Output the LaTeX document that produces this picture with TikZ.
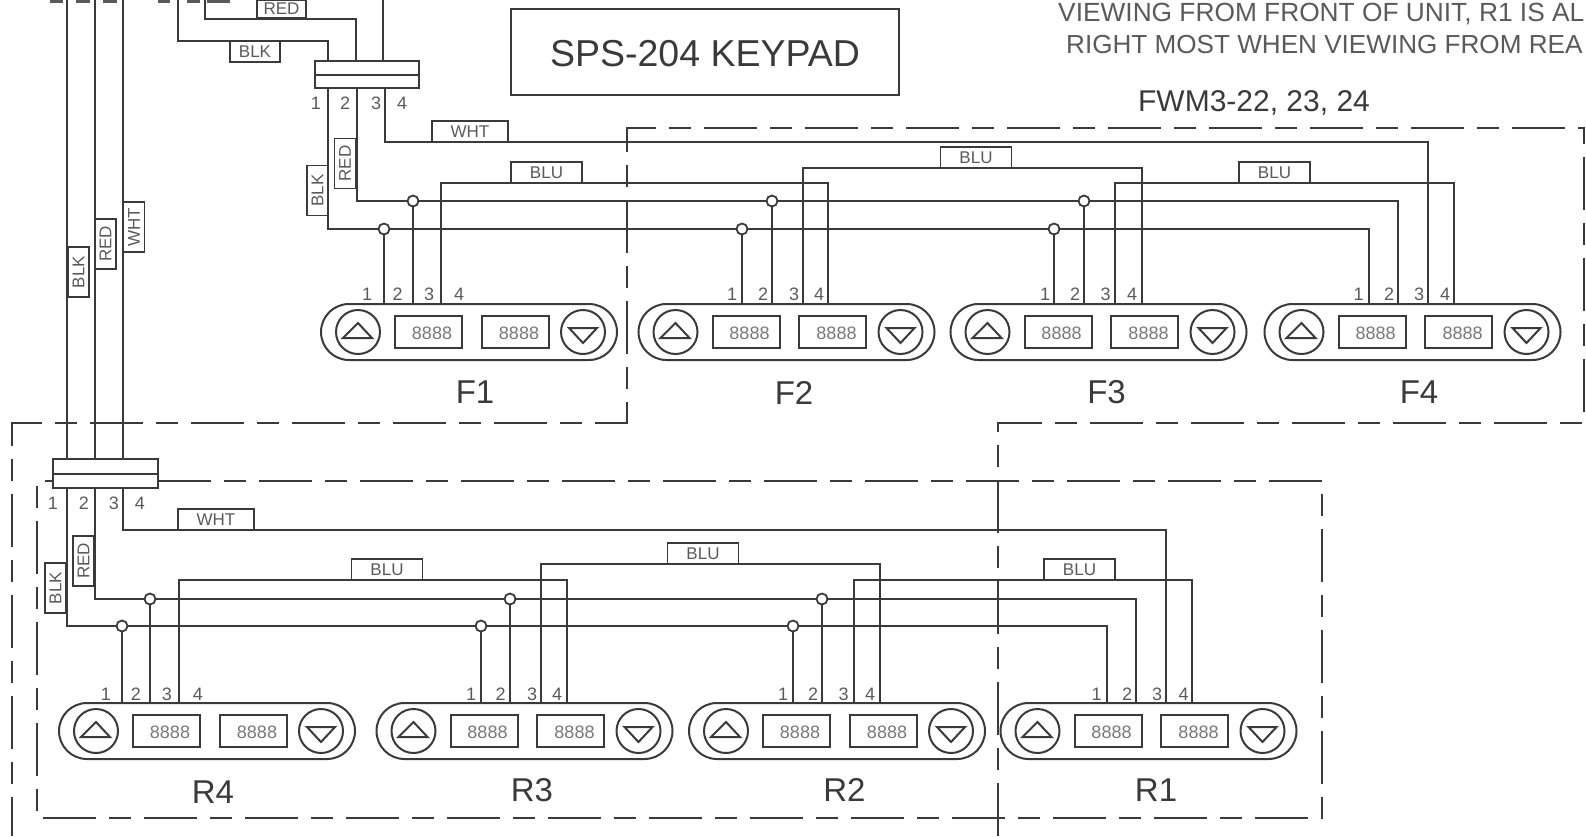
\documentclass[tikz,border=0pt]{standalone}
\usepackage{fontspec}
\setmainfont{Liberation Sans}
\newcommand\fs[1]{\fontsize{#1}{#1}\selectfont}
\definecolor{ink}{HTML}{3A3A3A}
\definecolor{soft}{HTML}{5A5A5A}
\definecolor{faint}{HTML}{777777}
\tikzset{
  wire/.style={draw=ink,line width=2pt,line join=miter},
  tagbox/.style={draw=ink,fill=white,line width=1.8pt,inner sep=0pt,minimum width=71pt,minimum height=21pt,text=soft,font=\fs{17}},
  vtag/.style={tagbox,rotate=90,minimum width=50pt},
  jdot/.style={circle,draw=ink,fill=white,line width=1.8pt,inner sep=0pt,minimum size=11pt},
  pinno/.style={text=soft,font=\fs{18},inner sep=0pt},
  kplabel/.style={text=ink,font=\fs{33},inner sep=0pt},
  boxdash/.style={draw=ink,line width=2pt,dash pattern=on 53pt off 13pt on 22pt off 13pt},
  padbody/.style={rectangle,rounded corners=28pt,draw=ink,line width=2pt,minimum width=296pt,minimum height=56pt,inner sep=0pt},
  btn/.style={circle,draw=ink,line width=2pt,minimum size=44pt,inner sep=0pt},
  disp/.style={rectangle,draw=ink,line width=2pt,minimum width=67pt,minimum height=32pt,inner sep=0pt},
  digits/.style={text=faint,font=\fs{18},inner sep=0pt},
  conn/.style={rectangle,draw=ink,fill=white,line width=2pt,inner sep=0pt}
}
\newcommand\kp[3]{%
  \begin{scope}[shift={(#2,#3)}]
    \node[padbody] (#1) at (149,29) {};
    \node[btn] (#1u) at (38,29) {};
    \node[btn] (#1d) at (263,29) {};
    \node[disp] (#1a) at (108.5,29) {};
    \node[disp] (#1b) at (195,29) {};
    \node[digits] (#1at) at (112,30) {8888};
    \node[digits] (#1bt) at (199,30) {8888};
    \draw[wire] (23,35) -- (52,35) -- (38,20) -- cycle;
    \draw[wire] (249,25) -- (277,25) -- (263,40) -- cycle;
  \end{scope}}
\begin{document}
\begin{tikzpicture}[x=1pt,y=-1pt]
\useasboundingbox (0,0) rectangle (1586,836);
\clip (0,0) rectangle (1586,836);
% clipped fragments at the top edge
\foreach \a/\b in {50/63,76/90,103/117,158/170,187/200,207/230}
  \fill[soft] (\a,0) rectangle (\b,3);
% dashed enclosures
\draw[boxdash] (998,836) -- (998,423) -- (1584,423) -- (1584,128) -- (627,128) -- (627,423) -- (12,423) -- (12,836);
\draw[boxdash] (158,481) -- (1322,481) -- (1322,818) -- (37,818) -- (37,481) -- (53,481);
% keypads
\kp{F1}{320}{303}
\kp{F2}{637.5}{303}
\kp{F3}{949.5}{303}
\kp{F4}{1263.5}{303}
\kp{R4}{58}{702}
\kp{R3}{375.5}{702}
\kp{R2}{688}{702}
\kp{R1}{999.5}{702}
% wire ends on the connectors
\coordinate (cFi1) at (328,61); \coordinate (cFi2) at (356,61); \coordinate (cFi3) at (383,61);
\coordinate (cFo1) at (328,88); \coordinate (cFo2) at (357,88); \coordinate (cFo3) at (385,88);
\coordinate (cRi1) at (67,459); \coordinate (cRi2) at (95,459); \coordinate (cRi3) at (123,459);
\coordinate (cRo1) at (67,488); \coordinate (cRo2) at (95,488); \coordinate (cRo3) at (123,488);
% free ends at the top edge
\coordinate (t1) at (178,0); \coordinate (t2) at (205,0); \coordinate (t3) at (383,0);
\coordinate (u1) at (67,0); \coordinate (u2) at (95,0); \coordinate (u3) at (123,0);
% pin points
\coordinate (F1p1) at (384,303); \coordinate (F1p2) at (413,303); \coordinate (F1p3) at (441,303);
\coordinate (F2p1) at (742,303); \coordinate (F2p2) at (772,303); \coordinate (F2p3) at (803,303); \coordinate (F2p4) at (828,303);
\coordinate (F3p1) at (1054,303); \coordinate (F3p2) at (1084,303); \coordinate (F3p3) at (1115,303); \coordinate (F3p4) at (1142,303);
\coordinate (F4p1) at (1369,303); \coordinate (F4p2) at (1398,303); \coordinate (F4p3) at (1428,303); \coordinate (F4p4) at (1454,303);
\coordinate (R4p1) at (122,702); \coordinate (R4p2) at (150,702); \coordinate (R4p3) at (179,702);
\coordinate (R3p1) at (481,702); \coordinate (R3p2) at (510,702); \coordinate (R3p3) at (541,702); \coordinate (R3p4) at (567,702);
\coordinate (R2p1) at (793,702); \coordinate (R2p2) at (822,702); \coordinate (R2p3) at (854,702); \coordinate (R2p4) at (880,702);
\coordinate (R1p1) at (1107,702); \coordinate (R1p2) at (1136,702); \coordinate (R1p3) at (1166,702); \coordinate (R1p4) at (1192,702);
% bus levels
\coordinate (lv1) at (0,41); \coordinate (lv2) at (0,19);
\coordinate (fK) at (0,229); \coordinate (fR) at (0,201); \coordinate (fB) at (0,183); \coordinate (fB2) at (0,168); \coordinate (fW) at (0,142);
\coordinate (rK) at (0,626); \coordinate (rR) at (0,599); \coordinate (rB) at (0,580); \coordinate (rB2) at (0,564); \coordinate (rW) at (0,530);
% feed wires
\draw[wire] (t1) |- (cFi1 |- lv1) -- (cFi1);
\draw[wire] (t2) |- (cFi2 |- lv2) -- (cFi2);
\draw[wire] (t3) -- (cFi3);
\draw[wire] (u1) -- (cRi1);
\draw[wire] (u2) -- (cRi2);
\draw[wire] (u3) -- (cRi3);
% front bus
\draw[wire] (cFo1) |- (F4p1 |- fK) -- (F4p1);
\draw[wire] (cFo2) |- (F4p2 |- fR) -- (F4p2);
\draw[wire] (cFo3) |- (F4p3 |- fW) -- (F4p3);
\draw[wire] (F1p3) |- (F2p4 |- fB) -- (F2p4);
\draw[wire] (F2p3) |- (F3p4 |- fB2) -- (F3p4);
\draw[wire] (F3p3) |- (F4p4 |- fB) -- (F4p4);
% rear bus
\draw[wire] (cRo1) |- (R1p1 |- rK) -- (R1p1);
\draw[wire] (cRo2) |- (R1p2 |- rR) -- (R1p2);
\draw[wire] (cRo3) |- (R1p3 |- rW) -- (R1p3);
\draw[wire] (R4p3) |- (R3p4 |- rB) -- (R3p4);
\draw[wire] (R3p3) |- (R2p4 |- rB2) -- (R2p4);
\draw[wire] (R2p3) |- (R1p4 |- rB) -- (R1p4);
% drops with junction dots
\foreach \k in {F1,F2,F3}{
  \node[jdot] (\k dk) at (\k p1 |- fK) {};
  \node[jdot] (\k dr) at (\k p2 |- fR) {};
  \draw[wire] (\k dk) -- (\k p1);
  \draw[wire] (\k dr) -- (\k p2);
}
\foreach \k in {R4,R3,R2}{
  \node[jdot] (\k dk) at (\k p1 |- rK) {};
  \node[jdot] (\k dr) at (\k p2 |- rR) {};
  \draw[wire] (\k dk) -- (\k p1);
  \draw[wire] (\k dr) -- (\k p2);
}
% connector bars
\node[conn,minimum width=104pt,minimum height=27pt] (cF) at (367,74.5) {};
\draw[wire] (cF.west) -- (cF.east);
\node[conn,minimum width=105pt,minimum height=29pt] (cR) at (105.5,473.5) {};
\draw[wire] (cR.west) -- (cR.east);
% wire tags
\node[tagbox,minimum width=49pt,minimum height=18pt] (tRED) at (281.5,9) {RED};
\node[tagbox,minimum width=50pt] (tBLK) at (255,51.5) {BLK};
\node[tagbox,minimum width=76pt] (tW1) at (470,131.5) {WHT};
\node[vtag] (tfK) at (317.5,190.5) {BLK};
\node[vtag] (tfR) at (345,163.5) {RED};
\node[vtag] (ttK) at (78.5,272) {BLK};
\node[vtag] (ttR) at (105.5,244) {RED};
\node[vtag] (ttW) at (134,227) {WHT};
\node[tagbox] (fb1) at (546.5,172.5) {BLU};
\node[tagbox] (fb2) at (976,157.5) {BLU};
\node[tagbox] (fb3) at (1274.5,172.5) {BLU};
\node[tagbox,minimum width=76pt] (tW2) at (216,519.5) {WHT};
\node[vtag] (trK) at (55.5,588) {BLK};
\node[vtag] (trR) at (83.5,561) {RED};
\node[tagbox] (rb1) at (387,569.5) {BLU};
\node[tagbox] (rb2) at (703,553.5) {BLU};
\node[tagbox] (rb3) at (1079.5,569.5) {BLU};
% pin numbers
\node[pinno] (n1) at (316,103) {1}; \node[pinno] (n2) at (345,103) {2}; \node[pinno] (n3) at (376,103) {3}; \node[pinno] (n4) at (402,103) {4};
\node[pinno] (m1) at (53,503) {1}; \node[pinno] (m2) at (84,503) {2}; \node[pinno] (m3) at (114,503) {3}; \node[pinno] (m4) at (140,503) {4};
\foreach \k/\a/\b/\c/\d in {F1/367/397.5/429/459,F2/732/763/794/819,F3/1045/1075/1105.5/1132,F4/1358.5/1389/1419/1445}{
  \node[pinno] (\k n1) at (\a,294) {1}; \node[pinno] (\k n2) at (\b,294) {2}; \node[pinno] (\k n3) at (\c,294) {3}; \node[pinno] (\k n4) at (\d,294) {4};
}
\foreach \k/\a/\b/\c/\d in {R4/106/136/167/198,R3/471/500.5/532/557,R2/783/813/843.5/870,R1/1096.5/1127/1157/1183.5}{
  \node[pinno] (\k n1) at (\a,694) {1}; \node[pinno] (\k n2) at (\b,694) {2}; \node[pinno] (\k n3) at (\c,694) {3}; \node[pinno] (\k n4) at (\d,694) {4};
}
% keypad names
\node[kplabel] (lF1) at (475,392.5) {F1};
\node[kplabel] (lF2) at (794,392.5) {F2};
\node[kplabel] (lF3) at (1106.5,392.5) {F3};
\node[kplabel] (lF4) at (1419,392.5) {F4};
\node[kplabel] (lR4) at (213,792) {R4};
\node[kplabel] (lR3) at (532,790) {R3};
\node[kplabel] (lR2) at (844.5,790) {R2};
\node[kplabel] (lR1) at (1156,790) {R1};
% titles
\node[draw=ink,line width=2pt,minimum width=388pt,minimum height=86pt,inner sep=0pt] (title) at (705,52) {};
\node[text=ink,font=\fs{37.5},inner sep=0pt] (titletext) at (705,54) {SPS-204 KEYPAD};
\node[text=ink,font=\fs{30},inner sep=0pt] (fwm) at (1254,103) {FWM3-22, 23, 24};
\node[anchor=west,text=soft,font=\fs{26.3},inner sep=0pt] (note1) at (1058,14) {VIEWING FROM FRONT OF UNIT, R1 IS AL};
\node[anchor=west,text=soft,font=\fs{26.1},inner sep=0pt] (note2) at (1066,45) {RIGHT MOST WHEN VIEWING FROM REA};
\end{tikzpicture}
\end{document}
